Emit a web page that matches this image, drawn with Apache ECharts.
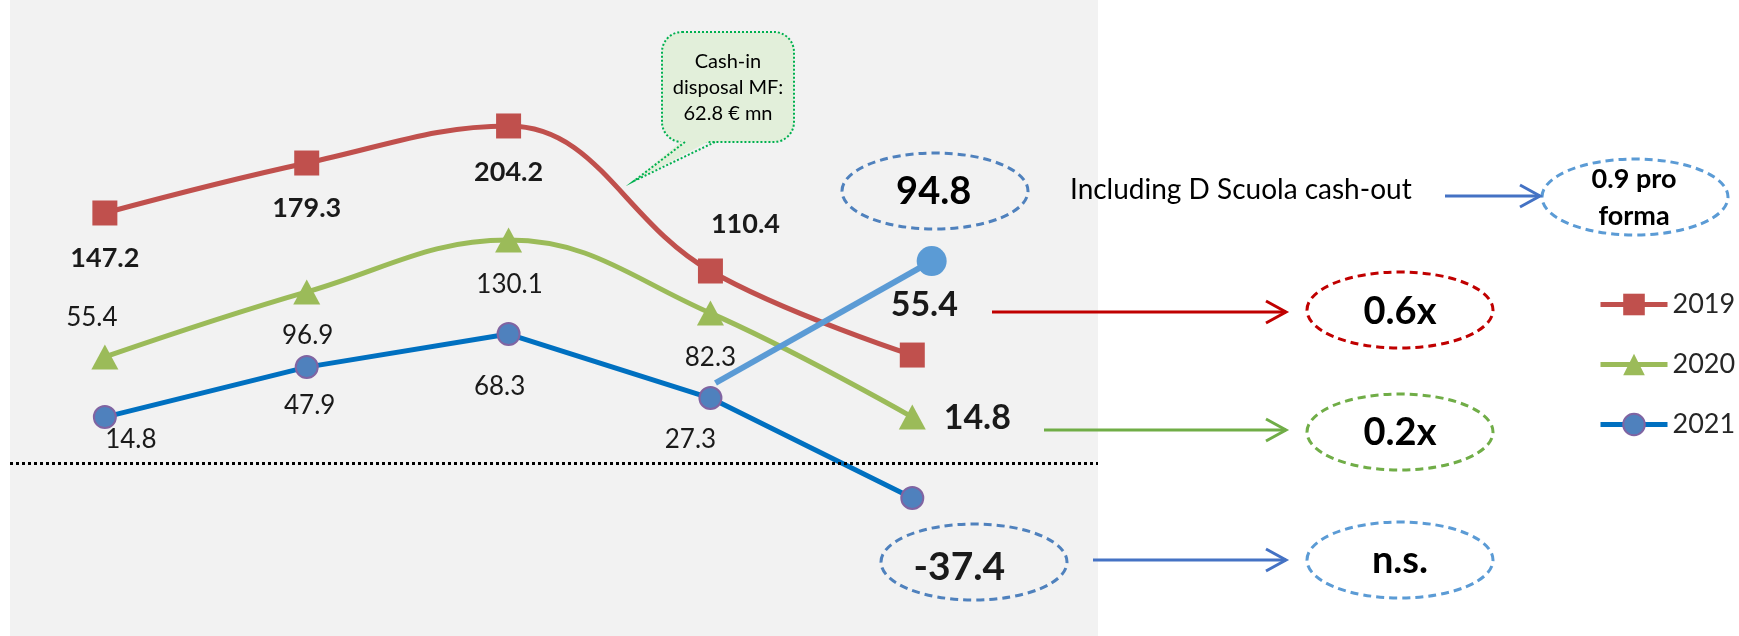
<!DOCTYPE html>
<html>
<head>
<meta charset="utf-8">
<script src="https://cdn.jsdelivr.net/npm/echarts@6/dist/echarts.min.js"></script>
<style>
  html, body { margin: 0; padding: 0; background: #fff; }
  #main { width: 1739px; height: 636px; }
</style>
</head>
<body>
<div id="main"></div>
<script>
// five periods on a hidden value axis (0..4)
const periods = [0, 1, 2, 3, 4];
const years = ['2019', '2020', '2021'];

// heights of the markers
const pos2019 = [143.1, 171.7, 192.9, 109.9, 61.8];
const pos2020 = [60.7, 97.9, 127.6, 85.8, 26.3];
const pos2021 = [26.3, 54.9, 73.8, 37.2, -20.0];
// pro forma branch (Including D Scuola cash-out)
const proFormaX = [3.025, 4.096];
const proFormaY = [45.8, 115.6];

// printed data labels
const label2019 = [147.2, 179.3, 204.2, 110.4, 55.4];
const label2020 = [55.4, 96.9, 130.1, 82.3, 14.8];
const label2021 = [14.8, 47.9, 68.3, 27.3, -37.4];
const labelProForma = 94.8;

// label placement (px from marker centre)
const shift2019 = [[0, 45], [0, 45], [0, 46], [35, -47], [12, -50]];
const shift2020 = [[-13, -39], [1, 44], [1, 45], [0, 45], [65, 1]];
const shift2021 = [[26, 23], [3, 39], [-9, 53], [-20, 42], [47, 69]];

const FONT = 'Lato';

function points(pos, labels, shifts, baseStyle, lastStyle) {
  return periods.map(function (p, i) {
    const st = i === periods.length - 1 ? lastStyle : baseStyle;
    return {
      value: [p, pos[i]],
      label: {
        show: true,
        position: 'inside',
        offset: shifts[i],
        formatter: labels[i].toFixed(1),
        color: '#1a1a1a',
        textBorderWidth: 0,
        fontFamily: FONT,
        fontSize: st.size,
        fontWeight: st.weight
      }
    };
  });
}

const boldSmall = { size: 27, weight: 'bold' };
const plain = { size: 26, weight: 'normal' };

function arrow(x1, x2, y, color) {
  return [
    { type: 'line', shape: { x1: x1, y1: y, x2: x2, y2: y }, style: { stroke: color, lineWidth: 3 } },
    { type: 'polyline', shape: { points: [[x2 - 20, y - 11], [x2, y], [x2 - 20, y + 11]] },
      style: { stroke: color, lineWidth: 3, fill: null } }
  ];
}

function oval(cx, cy, color) {
  return { type: 'ellipse', shape: { cx: cx, cy: cy, rx: 93, ry: 38 },
    style: { fill: 'none', stroke: color, lineWidth: 3, lineDash: [8, 5] } };
}

function txt(x, y, s, size, weight, align) {
  return { type: 'text', style: { text: s, x: x, y: y, fill: '#000', fontFamily: FONT,
    fontSize: size, fontWeight: weight, align: align || 'center', verticalAlign: 'middle', lineHeight: size + 10 } };
}

const chart = echarts.init(document.getElementById('main'));

const graphics = [].concat(
  // callout
  { type: 'rect', shape: { x: 662, y: 32, width: 132, height: 110, r: 20 },
    style: { fill: '#E2EFDA', stroke: '#00B050', lineWidth: 2, lineDash: [2, 2] } },
  { type: 'polygon', shape: { points: [[685, 138], [715, 138], [634, 181]] }, style: { fill: '#E2EFDA' } },
  { type: 'polyline', shape: { points: [[685, 142], [634, 181], [715, 142]] },
    style: { stroke: '#00B050', lineWidth: 2, lineDash: [2, 2], fill: null } },
  { type: 'text', style: { text: 'Cash-in\ndisposal MF:\n62.8 € mn', x: 728, y: 88, fill: '#000',
    fontFamily: FONT, fontSize: 20, align: 'center', verticalAlign: 'middle', lineHeight: 26 } },
  // ovals around highlighted values
  oval(935, 191, '#4F81BD'),
  oval(974, 562, '#4F81BD'),
  oval(1635, 197, '#5B9BD5'),
  oval(1400, 310, '#C00000'),
  oval(1400, 432, '#70AD47'),
  oval(1400, 560, '#5B9BD5'),
  // arrows
  arrow(992, 1286, 312, '#C00000'),
  arrow(1044, 1286, 430, '#70AD47'),
  arrow(1093, 1286, 560, '#4472C4'),
  arrow(1445, 1540, 196, '#4472C4'),
  // texts
  txt(1070, 190, 'Including D Scuola cash-out', 28, 'normal', 'left'),
  txt(1634, 198, '0.9 pro\nforma', 27, 'bold'),
  txt(1400, 312, '0.6x', 38, 'bold'),
  txt(1400, 433, '0.2x', 38, 'bold'),
  txt(1400, 561, 'n.s.', 38, 'bold')
);

const option = {
  animation: false,
  textStyle: { fontFamily: FONT },
  grid: { left: 10, right: 641, top: 0, bottom: 0, show: true, backgroundColor: '#F2F2F2', borderWidth: 0 },
  xAxis: { type: 'value', min: -0.47, max: 4.92, show: false },
  yAxis: { type: 'value', min: -99, max: 265, show: false },
  legend: {
    data: years,
    orient: 'vertical',
    left: 1593,
    top: 286,
    itemWidth: 67,
    itemHeight: 27,
    itemGap: 33,
    lineStyle: { width: 5 },
    textStyle: { fontFamily: FONT, fontSize: 27, color: '#262626' }
  },
  graphic: graphics,
  series: [
    {
      name: '2019',
      type: 'line',
      smooth: 0.4,
      symbol: 'rect',
      symbolSize: 25,
      itemStyle: { color: '#C0504D' },
      lineStyle: { color: '#C0504D', width: 5 },
      data: points(pos2019, label2019, shift2019, boldSmall, { size: 34, weight: 'bold' }),
      markLine: {
        silent: true,
        symbol: 'none',
        label: { show: false },
        lineStyle: { color: '#000', width: 3, type: [3, 3] },
        data: [{ yAxis: 0 }]
      }
    },
    {
      name: '2020',
      type: 'line',
      smooth: 0.4,
      symbol: 'triangle',
      symbolSize: [27, 25],
      itemStyle: { color: '#9BBB59' },
      lineStyle: { color: '#9BBB59', width: 5 },
      data: points(pos2020, label2020, shift2020, plain, { size: 34, weight: 'bold' })
    },
    {
      name: '2021',
      type: 'line',
      symbol: 'circle',
      symbolSize: 22,
      itemStyle: { color: '#4F81BD', borderColor: '#8064A2', borderWidth: 2 },
      lineStyle: { color: '#0070C0', width: 5 },
      data: points(pos2021, label2021, shift2021, plain, { size: 39, weight: 'bold' })
    },
    {
      name: 'pro forma',
      type: 'line',
      symbol: 'circle',
      symbolSize: 30,
      itemStyle: { color: '#5B9BD5' },
      lineStyle: { color: '#5B9BD5', width: 6 },
      data: [
        { value: [proFormaX[0], proFormaY[0]], symbol: 'none' },
        {
          value: [proFormaX[1], proFormaY[1]],
          label: {
            show: true, position: 'inside', offset: [2, -69],
            formatter: labelProForma.toFixed(1),
            color: '#000', textBorderWidth: 0, fontFamily: FONT, fontSize: 38, fontWeight: 'bold'
          }
        }
      ]
    }
  ]
};

chart.setOption(option);
</script>
</body>
</html>
